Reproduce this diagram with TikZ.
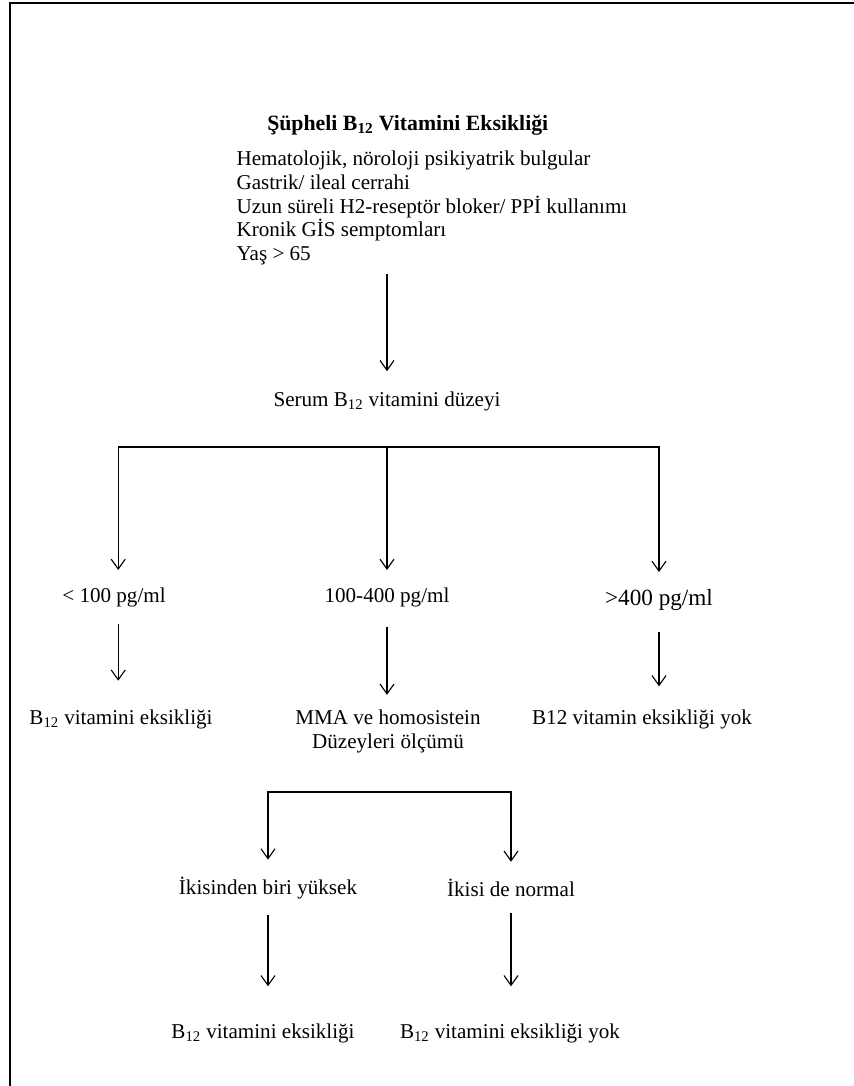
\documentclass[tikz,border=0pt]{standalone}
\usepackage{fontspec}
\setmainfont{Liberation Serif}
\usetikzlibrary{arrows.meta}

\begin{document}
\begin{tikzpicture}[  > = {Straight Barb[length=7pt,width=10pt]},  x = 0.025cm,  y = -0.025cm,  line width = 0.8pt,  font = \fontsize{15}{17}\selectfont,
  txt/.style = {inner sep=2pt, align=center},
  link/.style = {->, shorten <=10pt, shorten >=16pt}]
  \useasboundingbox (0,0) rectangle (854,1086);
  % Frame
  \draw[line width=2pt] (10,1086) -- (10,3) -- (854,3);

  % Define nodes
  \node (title) [anchor=west, font=\fontsize{15.5}{17}\selectfont\bfseries] at (262,125) {Şüpheli B\textsubscript{12} Vitamini Eksikliği};
  \node (list) [anchor=north west, align=left, inner sep=0pt] at (236,150) {Hematolojik, nöroloji psikiyatrik bulgular\\Gastrik/ ileal cerrahi\\Uzun süreli H2-reseptör bloker/ PPİ kullanımı\\Kronik GİS semptomları\\Yaş > 65};
  \node (serum) [txt] at (387,401) {Serum B\textsubscript{12} vitamini düzeyi};
  \coordinate (split) at (387,447);
  \node (low) [txt] at (114,597) {< 100 pg/ml};
  \node (mid) [txt] at (387,597) {100-400 pg/ml};
  \node (high) [txt, font=\fontsize{16.5}{18}\selectfont] at (659,600) {>400 pg/ml};
  \node (lowres) [txt] at (121,719) {B\textsubscript{12} vitamini eksikliği};
  \node (midres) [txt] at (388,731) {MMA ve homosistein\\Düzeyleri ölçümü};
  \node (highres) [txt] at (642,719) {B12 vitamin eksikliği yok};
  \coordinate (split2) at (389,792);
  \node (one) [txt] at (268,888) {İkisinden biri yüksek};
  \node (both) [txt] at (511,888) {İkisi de normal};
  \node (oneres) [txt] at (263,1033) {B\textsubscript{12} vitamini eksikliği};
  \node (bothres) [txt] at (510,1033) {B\textsubscript{12} vitamini eksikliği yok};

  % Draw arrows
  \draw[link, shorten <=6pt, shorten >=12pt] (serum.north |- list.south) -- (serum.north);
  \draw[->, shorten >=10pt] (split) -| ([xshift=3pt]low.north);
  \draw[->, shorten >=10pt] (split) -- (mid.north);
  \draw[->, shorten >=10pt] (split) -| (high.north);
  \draw[link, shorten >=18pt] ([xshift=3pt]low.south) -- ([xshift=3pt]low.south |- lowres.north);
  \draw[link, shorten <=12pt, shorten >=8pt] (mid) -- (mid |- midres.north);
  \draw[link, shorten <=13pt, shorten >=14pt] (high) -- (high |- highres.north);
  \draw[->, shorten >=10pt] (split2) -| (one.north);
  \draw[->, shorten >=10pt] (split2) -| (both.north);
  \draw[link, shorten <=9pt, shorten >=24pt] (one) -- (one |- oneres.north);
  \draw[link, shorten <=9pt, shorten >=24pt] (both) -- (both |- bothres.north);
\end{tikzpicture}
\end{document}
